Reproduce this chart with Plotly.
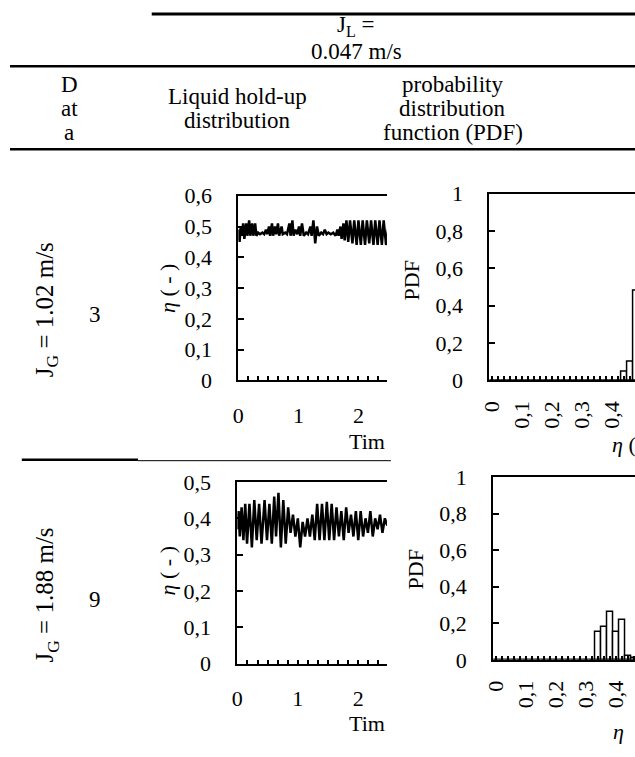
import plotly.graph_objects as go

W, H = 635, 757
FONT = "Liberation Serif"
FS = 23      # table text
TFS = 22     # chart text

# ---------------- data ----------------
# Row 1 (J_G = 1.02 m/s): liquid hold-up time trace
t1 = [0.00, 0.02, 0.04, 0.06, 0.08, 0.10, 0.13, 0.15, 0.18, 0.20, 0.23, 0.25, 0.28, 0.30,
      0.33, 0.36, 0.40, 0.43, 0.46, 0.48, 0.51, 0.53, 0.56, 0.58, 0.61, 0.63, 0.66, 0.68,
      0.72, 0.74, 0.78, 0.81, 0.85, 0.87, 0.90, 0.92, 0.95, 0.98, 1.01, 1.03, 1.06, 1.09,
      1.13, 1.16, 1.20, 1.22, 1.25, 1.28, 1.31, 1.34, 1.38, 1.41, 1.44, 1.47, 1.50, 1.54,
      1.58, 1.62, 1.65, 1.67, 1.70, 1.72, 1.75, 1.77, 1.80, 1.83, 1.86, 1.90, 1.93, 1.97,
      2.00, 2.04, 2.07, 2.11, 2.14, 2.18, 2.21, 2.25, 2.28, 2.32, 2.35, 2.39, 2.42, 2.46, 2.50]
eta1 = [0.49, 0.45, 0.50, 0.47, 0.51, 0.46, 0.51, 0.47, 0.52, 0.47, 0.51, 0.47, 0.51, 0.47,
        0.48, 0.475, 0.48, 0.475, 0.49, 0.475, 0.50, 0.47, 0.51, 0.47, 0.50, 0.475, 0.51, 0.47,
        0.50, 0.475, 0.48, 0.475, 0.51, 0.47, 0.52, 0.47, 0.49, 0.475, 0.50, 0.47, 0.51, 0.47,
        0.48, 0.475, 0.50, 0.47, 0.52, 0.445, 0.50, 0.47, 0.48, 0.475, 0.49, 0.475, 0.48, 0.475,
        0.48, 0.47, 0.49, 0.47, 0.50, 0.46, 0.51, 0.455, 0.52, 0.45, 0.52, 0.445, 0.52, 0.44,
        0.52, 0.44, 0.52, 0.44, 0.52, 0.445, 0.52, 0.44, 0.52, 0.44, 0.52, 0.44, 0.52, 0.44, 0.50]

# Row 2 (J_G = 1.88 m/s)
t2 = [0.00, 0.02, 0.04, 0.07, 0.10, 0.13, 0.16, 0.20, 0.24, 0.28, 0.32, 0.36, 0.40, 0.45,
      0.49, 0.53, 0.57, 0.61, 0.64, 0.68, 0.72, 0.76, 0.80, 0.84, 0.88, 0.92, 0.96, 1.00,
      1.04, 1.08, 1.12, 1.16, 1.20, 1.24, 1.28, 1.32, 1.36, 1.40, 1.44, 1.48, 1.52, 1.56,
      1.60, 1.64, 1.68, 1.72, 1.76, 1.80, 1.84, 1.88, 1.92, 1.96, 2.00, 2.04, 2.08, 2.12,
      2.16, 2.20, 2.24, 2.28, 2.32, 2.36, 2.40, 2.44, 2.48]
eta2 = [0.37, 0.42, 0.35, 0.43, 0.34, 0.44, 0.33, 0.44, 0.32, 0.45, 0.34, 0.44, 0.33, 0.45,
        0.34, 0.44, 0.33, 0.46, 0.35, 0.47, 0.32, 0.45, 0.33, 0.43, 0.36, 0.41, 0.35, 0.40,
        0.32, 0.39, 0.35, 0.40, 0.35, 0.41, 0.34, 0.44, 0.34, 0.44, 0.34, 0.445, 0.34, 0.44,
        0.34, 0.43, 0.35, 0.42, 0.34, 0.43, 0.36, 0.41, 0.35, 0.42, 0.34, 0.42, 0.35, 0.40,
        0.36, 0.42, 0.35, 0.40, 0.37, 0.41, 0.36, 0.40, 0.38]

# PDF histograms (bin centres 0, 0.02, ... 0.48)
bins = [round(0.02 * i, 2) for i in range(25)]
pdf1 = [0, 0, 0, 0, 0, 0, 0, 0, 0, 0, 0, 0, 0, 0, 0, 0, 0, 0, 0, 0, 0, 0, 0.047, 0.10, 0.48]
pdf2 = [0, 0, 0, 0, 0, 0, 0, 0, 0, 0, 0, 0, 0, 0, 0, 0, 0, 0.15, 0.18, 0.26, 0.15, 0.22, 0.02, 0.012, 0]

# ---------------- layout helpers ----------------
def fx(x):
    return x / W

def fy(y):
    return 1 - y / H

fig = go.Figure()

panels = {
    1: dict(x=(232, 383), y=(190, 381)),   # row1 line
    2: dict(x=(487, 635), y=(188, 381)),   # row1 pdf
    3: dict(x=(231, 383), y=(486, 674)),   # row2 line
    4: dict(x=(491, 635), y=(481, 670)),   # row2 pdf
}

fig.add_trace(go.Scatter(x=t1, y=eta1, mode="lines", line=dict(color="black", width=2.5),
                         xaxis="x", yaxis="y", showlegend=False))
fig.add_trace(go.Bar(x=bins, y=pdf1, width=0.02, marker=dict(color="white", line=dict(color="black", width=1.5)),
                     xaxis="x2", yaxis="y2", showlegend=False))
fig.add_trace(go.Scatter(x=t2, y=eta2, mode="lines", line=dict(color="black", width=2.5),
                         xaxis="x3", yaxis="y3", showlegend=False))
fig.add_trace(go.Bar(x=bins, y=pdf2, width=0.02, marker=dict(color="white", line=dict(color="black", width=1.5)),
                     xaxis="x4", yaxis="y4", showlegend=False))

tickfont = dict(family=FONT, size=TFS, color="black")

def xline(idx, rng, dtick, minor_dtick, angle=0, standoff=20):
    p = panels[idx]
    return dict(domain=[fx(p["x"][0]), fx(p["x"][1])], range=rng, anchor="y" if idx == 1 else f"y{idx}",
                showline=True, linecolor="black", linewidth=2, mirror=True,
                ticks="inside", ticklen=4, tickwidth=1.5, tickcolor="black",
                dtick=dtick, tick0=0, tickangle=angle, tickfont=tickfont,
                minor=dict(dtick=minor_dtick, tick0=0, ticks="inside", ticklen=4, tickwidth=1.5, tickcolor="black"),
                showgrid=False, zeroline=False, fixedrange=True, ticklabelstandoff=standoff)

def yline(idx, rng, dtick):
    p = panels[idx]
    return dict(domain=[fy(p["y"][1]), fy(p["y"][0])], range=rng, anchor="x" if idx == 1 else f"x{idx}",
                showline=True, linecolor="black", linewidth=2, mirror=False,
                ticks="inside", ticklen=6, tickwidth=1.5, tickcolor="black",
                dtick=dtick, tick0=0, tickfont=tickfont,
                showgrid=False, zeroline=False, fixedrange=True, ticklabelstandoff=20)

fig.update_layout(
    width=W, height=H, margin=dict(l=0, r=0, t=0, b=0),
    paper_bgcolor="white", plot_bgcolor="white",
    separators=",.", bargap=0,
    font=dict(family=FONT, size=FS, color="black"),
    xaxis=xline(1, [0, 2.475], 1, 1 / 6, 0, 14),
    yaxis=yline(1, [0, 0.6], 0.1),
    xaxis2=xline(2, [-0.01, 0.477], 0.1, 0.02, -90, 10),
    yaxis2=yline(2, [0, 1], 0.2),
    xaxis3=xline(3, [0, 2.475], 1, 1 / 6, 0, 14),
    yaxis3=yline(3, [0, 0.5], 0.1),
    xaxis4=xline(4, [-0.01, 0.464], 0.1, 0.02, -90, 10),
    yaxis4=yline(4, [0, 1], 0.2),
)

# ---------------- table rules ----------------
def hline(x0, x1, y, w):
    fig.add_shape(type="line", xref="paper", yref="paper", x0=fx(x0), x1=fx(x1), y0=fy(y), y1=fy(y),
                  line=dict(color="black", width=w))

hline(144, 635, 2, 3)
hline(0, 635, 56, 2.5)
hline(0, 635, 142, 2.5)
hline(12, 130, 463, 2.5)
hline(130, 387, 464, 1)

# ---------------- text ----------------
def txt(s, x, y, angle=0, xanchor="center", size=FS):
    fig.add_annotation(text=s, x=fx(x), y=fy(y), xref="paper", yref="paper", showarrow=False,
                       textangle=angle, xanchor=xanchor, yanchor="middle",
                       font=dict(family=FONT, size=size, color="black"))

txt("J<sub>L</sub> =", 352, 14)
txt("0.047 m/s", 352, 41)
txt("D", 60, 75)
txt("at", 60, 100)
txt("a", 60, 125)
txt("Liquid hold-up", 231, 87)
txt("distribution", 231, 112)
txt("probability", 450, 75)
txt("distribution", 450, 100)
txt("function (PDF)", 450, 125)

txt("J<sub>G</sub> = 1.02 m/s", 37, 308, -90, size=25)
txt("3", 86, 313)
txt("J<sub>G</sub> = 1.88 m/s", 37, 603, -90, size=25)
txt("9", 86, 608)

txt("<i>η</i> ( - )", 160, 286, -90, size=TFS)
txt("<i>η</i> ( - )", 160, 578, -90, size=TFS)
txt("PDF", 408, 278, -90, size=TFS)
txt("PDF", 412, 577, -90, size=TFS)

txt("Tim", 383, 444, 0, "right", TFS)
txt("Tim", 383, 736, 0, "right", TFS)
txt("<i>η</i> (", 610, 447, 0, "left", TFS)
txt("<i>η</i>", 611, 744, 0, "left", TFS)

fig.write_html("out.html", config={"displayModeBar": False},
               post_script="document.body.style.margin='0';")
